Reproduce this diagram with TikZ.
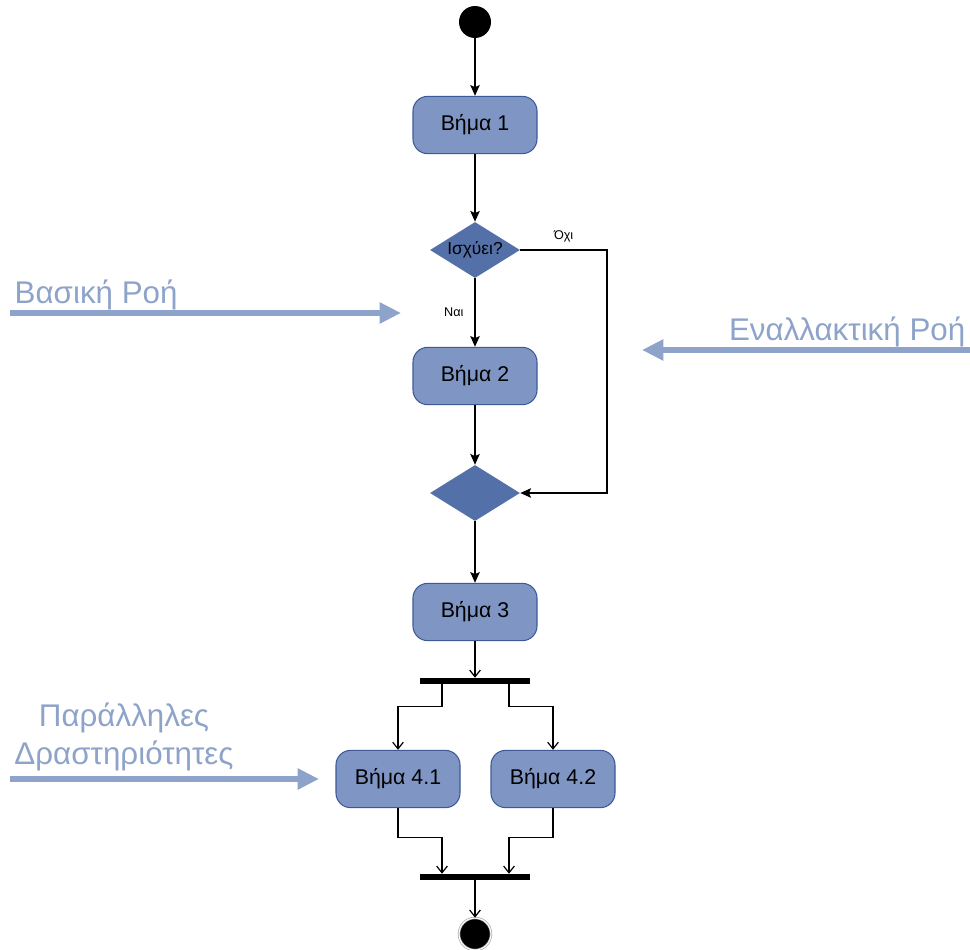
\documentclass[tikz,border=0pt]{standalone}
\usepackage{fontspec}
\setmainfont{Liberation Sans}
\usetikzlibrary{shapes.geometric,arrows.meta}
\definecolor{stepfill}{HTML}{7F96C4}
\definecolor{stepline}{HTML}{3C5A9A}
\definecolor{choicefill}{HTML}{5470A8}
\definecolor{notecol}{HTML}{8EA3C9}

\begin{document}
\begin{tikzpicture}[x=0.75pt,y=-0.75pt,
    stepbox/.style={draw=stepline, fill=stepfill, line width=0.8pt, rounded corners=11pt,
      minimum width=93pt, minimum height=43pt, font=\fontsize{16}{19}\selectfont},
    choice/.style={diamond, fill=choicefill, aspect=1.6, inner sep=0pt,
      minimum width=67.5pt, minimum height=42pt, font=\fontsize{13}{15}\selectfont},
    bar/.style={fill=black, inner sep=0pt, minimum width=82.5pt, minimum height=4.5pt},
    flow/.style={line width=1.4pt, -{Stealth[length=8pt,width=7pt,inset=1.5pt]}},
    par/.style={line width=0.9pt, -{Straight Barb[length=5pt,width=8pt]}},
    note/.style={notecol, line width=4.5pt, -{Triangle[length=16pt,width=15pt]}},
    notetext/.style={notecol, font=\fontsize{23.5}{28}\selectfont},
    tag/.style={font=\fontsize{9.5}{11}\selectfont, inner sep=2pt}]
  \useasboundingbox (0,0) rectangle (970,949);

  % main line
  \node[circle, fill=black, minimum size=24pt, inner sep=0pt] (start) at (475,22) {};
  \node[stepbox] (b1) at (475,125) {Βήμα 1};
  \node[choice] (dec) at (475,250) {Ισχύει?};
  \node[stepbox] (b2) at (475,376) {Βήμα 2};
  \node[choice] (merge) at (475,493) {};
  \node[stepbox] (b3) at (475,612) {Βήμα 3};
  \node[bar] (fork) at (475,681) {};
  \node[stepbox] (b41) at (398,779) {Βήμα 4.1};
  \node[stepbox] (b42) at (553,779) {Βήμα 4.2};
  \node[bar] (join) at (475,877) {};
  \node[circle, fill=black, draw=gray!70, double=white, double distance=0.8pt,
    line width=0.5pt, minimum size=24pt, inner sep=0pt] (stop) at (475,934) {};
  \coordinate (alt) at (607,250);

  \draw[flow] (start) -- (b1);
  \draw[flow] (b1) -- (dec);
  \draw[flow] (dec) -- node[tag, left=6pt] {Ναι} (b2);
  \draw[flow] (dec.east) -- node[tag, above=3pt] {Όχι} (alt) |- (merge.east);
  \draw[flow] (b2) -- (merge);
  \draw[flow] (merge) -- (b3);
  \draw[par] (b3) -- (fork);
  \draw[par] ([shift={(-33,0)}]fork.south) -- ++(0,22) -| (b41.north);
  \draw[par] ([shift={(34,0)}]fork.south) -- ++(0,22) -| (b42.north);
  \draw[par] (b41.south) -- ++(0,29) -| ([shift={(-33,0)}]join.north);
  \draw[par] (b42.south) -- ++(0,29) -| ([shift={(34,0)}]join.north);
  \draw[par] (join) -- (stop);

  % annotations
  \node[notetext, anchor=west] (basic) at (10,295) {Βασική Ροή};
  \coordinate (basicA) at (10,313);
  \coordinate (basicB) at (401,313);
  \draw[note] (basicA) -- (basicB);
  \node[notetext, anchor=east] (other) at (970,332) {Εναλλακτική Ροή};
  \coordinate (otherA) at (970,350);
  \coordinate (otherB) at (642,350);
  \draw[note] (otherA) -- (otherB);
  \node[notetext, align=center] (parallel) at (124,737) {Παράλληλες\\Δραστηριότητες};
  \coordinate (parA) at (10,779);
  \coordinate (parB) at (319,779);
  \draw[note] (parA) -- (parB);
\end{tikzpicture}
\end{document}
